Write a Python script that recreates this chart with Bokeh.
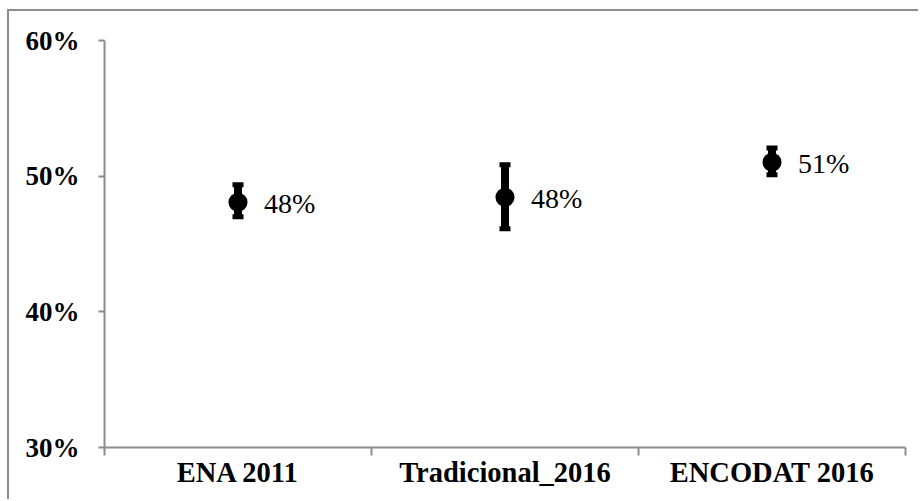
from bokeh.plotting import figure
from bokeh.models import ColumnDataSource, FixedTicker, PrintfTickFormatter, Range1d
from bokeh.core.properties import value
from bokeh.embed import file_html
from bokeh.resources import INLINE

# ---- data ----
categories = ["ENA 2011", "Tradicional_2016", "ENCODAT 2016"]
estimate = [48.08, 48.45, 51.03]
lower = [47.0, 46.12, 50.11]
upper = [49.37, 50.85, 52.08]
y_ticks = [30, 40, 50, 60]

xpos = [i + 0.5 for i in range(len(categories))]
labels = [f"{round(v)}%" for v in estimate]

src = ColumnDataSource(dict(x=xpos, y=estimate, lo=lower, hi=upper, lab=labels))

GRAY = "#8c8c8c"

p = figure(width=911, height=490, output_backend="svg", toolbar_location=None,
           x_range=Range1d(0, len(categories)), y_range=Range1d(y_ticks[0], y_ticks[-1]),
           min_border_left=95, min_border_right=15, min_border_top=29, min_border_bottom=54)
p.styles = {"border-left": f"2px solid {GRAY}", "border-top": f"2px solid {GRAY}",
            "margin-top": "9px", "margin-left": "7px"}
p.outline_line_color = None
p.xgrid.grid_line_color = None
p.ygrid.grid_line_color = None
p.background_fill_color = "white"
p.border_fill_color = "white"

# error bars
p.segment(x0="x", y0="lo", x1="x", y1="hi", source=src, line_color="black", line_width=8)
p.rect(x="x", y="lo", width=11, height=5, width_units="screen", height_units="screen",
       source=src, fill_color="black", line_color=None)
p.rect(x="x", y="hi", width=11, height=5, width_units="screen", height_units="screen",
       source=src, fill_color="black", line_color=None)
p.scatter(x="x", y="y", size=19, source=src, fill_color="black", line_color=None)

# data labels
p.text(x="x", y="y", text="lab", source=src, x_offset=26, y_offset=1,
       text_align="left", text_baseline="middle",
       text_font=value("Liberation Serif"), text_font_size="28px", text_color="black")

# x axis
xa = p.xaxis[0]
xa.ticker = FixedTicker(ticks=xpos, minor_ticks=list(range(len(categories) + 1)))
xa.major_label_overrides = {x: c for x, c in zip(xpos, categories)}
xa.major_tick_line_color = None
xa.major_tick_out = 8
xa.major_tick_in = 0
xa.minor_tick_line_color = GRAY
xa.minor_tick_line_width = 2
xa.minor_tick_out = 8
xa.minor_tick_in = 0
xa.axis_line_color = GRAY
xa.axis_line_width = 2
xa.major_label_standoff = 1
xa.major_label_text_font = "Liberation Serif"
xa.major_label_text_font_style = "bold"
xa.major_label_text_font_size = "28.5px"
xa.major_label_text_color = "black"

# y axis
ya = p.yaxis[0]
ya.ticker = FixedTicker(ticks=y_ticks, minor_ticks=[])
ya.formatter = PrintfTickFormatter(format="%d%%")
ya.major_tick_line_color = GRAY
ya.major_tick_line_width = 2
ya.major_tick_out = 6
ya.major_tick_in = 0
ya.minor_tick_line_color = None
ya.axis_line_color = GRAY
ya.axis_line_width = 2
ya.major_label_standoff = 19
ya.major_label_text_font = "Liberation Serif"
ya.major_label_text_font_style = "bold"
ya.major_label_text_font_size = "27px"
ya.major_label_text_color = "black"

open("out.html", "w").write(file_html(p, INLINE))
